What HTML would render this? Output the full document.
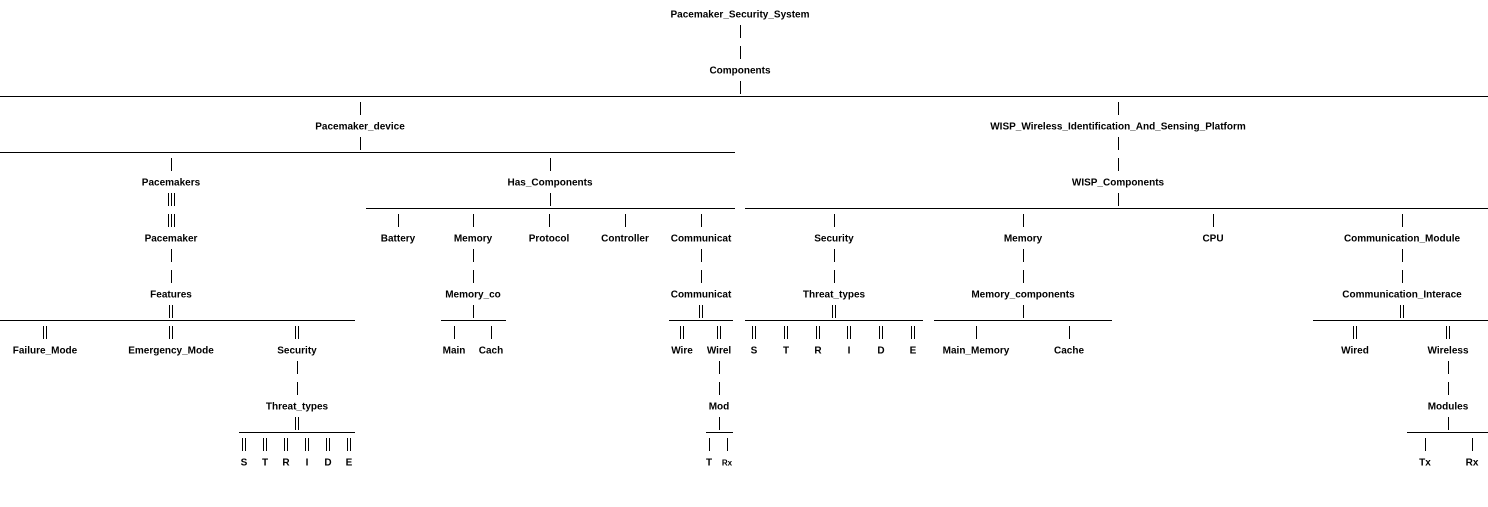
<!DOCTYPE html>
<html><head><meta charset="utf-8"><style>
html,body{margin:0;padding:0;background:#fff;}
svg{display:block}
text{font-family:"Liberation Sans",Arial,sans-serif;font-weight:bold;font-size:10px;fill:#000;text-anchor:middle;dominant-baseline:central}
line{stroke:#000;stroke-width:1}
</style></head><body>
<svg width="1488" height="507" viewBox="0 0 1488 507" xmlns="http://www.w3.org/2000/svg">
<g shape-rendering="crispEdges">
<line x1="740.5" y1="25" x2="740.5" y2="38"/><line x1="740.5" y1="46" x2="740.5" y2="59"/>
<line x1="740.5" y1="81" x2="740.5" y2="94"/>
<line x1="0" y1="96.5" x2="1488" y2="96.5"/>
<line x1="360.5" y1="102" x2="360.5" y2="115"/><line x1="1118.5" y1="102" x2="1118.5" y2="115"/>
<line x1="360.5" y1="137" x2="360.5" y2="150"/>
<line x1="0" y1="152.5" x2="735" y2="152.5"/>
<line x1="171.5" y1="158" x2="171.5" y2="171"/><line x1="550.5" y1="158" x2="550.5" y2="171"/>
<line x1="1118.5" y1="137" x2="1118.5" y2="150"/><line x1="1118.5" y1="158" x2="1118.5" y2="171"/>
<line x1="168.5" y1="193" x2="168.5" y2="206"/><line x1="171.5" y1="193" x2="171.5" y2="206"/><line x1="174.5" y1="193" x2="174.5" y2="206"/>
<line x1="168.5" y1="214" x2="168.5" y2="227"/><line x1="171.5" y1="214" x2="171.5" y2="227"/><line x1="174.5" y1="214" x2="174.5" y2="227"/>
<line x1="550.5" y1="193" x2="550.5" y2="206"/>
<line x1="366" y1="208.5" x2="735" y2="208.5"/>
<line x1="398.5" y1="214" x2="398.5" y2="227"/><line x1="473.5" y1="214" x2="473.5" y2="227"/><line x1="549.5" y1="214" x2="549.5" y2="227"/><line x1="625.5" y1="214" x2="625.5" y2="227"/><line x1="701.5" y1="214" x2="701.5" y2="227"/>
<line x1="1118.5" y1="193" x2="1118.5" y2="206"/>
<line x1="745" y1="208.5" x2="1488" y2="208.5"/>
<line x1="834.5" y1="214" x2="834.5" y2="227"/><line x1="1023.5" y1="214" x2="1023.5" y2="227"/><line x1="1213.5" y1="214" x2="1213.5" y2="227"/><line x1="1402.5" y1="214" x2="1402.5" y2="227"/>
<line x1="171.5" y1="249" x2="171.5" y2="262"/><line x1="171.5" y1="270" x2="171.5" y2="283"/>
<line x1="473.5" y1="249" x2="473.5" y2="262"/><line x1="473.5" y1="270" x2="473.5" y2="283"/>
<line x1="701.5" y1="249" x2="701.5" y2="262"/><line x1="701.5" y1="270" x2="701.5" y2="283"/>
<line x1="834.5" y1="249" x2="834.5" y2="262"/><line x1="834.5" y1="270" x2="834.5" y2="283"/>
<line x1="1023.5" y1="249" x2="1023.5" y2="262"/><line x1="1023.5" y1="270" x2="1023.5" y2="283"/>
<line x1="1402.5" y1="249" x2="1402.5" y2="262"/><line x1="1402.5" y1="270" x2="1402.5" y2="283"/>
<line x1="169.5" y1="305" x2="169.5" y2="318"/><line x1="172.5" y1="305" x2="172.5" y2="318"/>
<line x1="0" y1="320.5" x2="355" y2="320.5"/>
<line x1="43.5" y1="326" x2="43.5" y2="339"/><line x1="46.5" y1="326" x2="46.5" y2="339"/>
<line x1="169.5" y1="326" x2="169.5" y2="339"/><line x1="172.5" y1="326" x2="172.5" y2="339"/>
<line x1="295.5" y1="326" x2="295.5" y2="339"/><line x1="298.5" y1="326" x2="298.5" y2="339"/>
<line x1="473.5" y1="305" x2="473.5" y2="318"/>
<line x1="441" y1="320.5" x2="506" y2="320.5"/>
<line x1="454.5" y1="326" x2="454.5" y2="339"/><line x1="491.5" y1="326" x2="491.5" y2="339"/>
<line x1="699.5" y1="305" x2="699.5" y2="318"/><line x1="702.5" y1="305" x2="702.5" y2="318"/>
<line x1="669" y1="320.5" x2="733" y2="320.5"/>
<line x1="680.5" y1="326" x2="680.5" y2="339"/><line x1="683.5" y1="326" x2="683.5" y2="339"/>
<line x1="717.5" y1="326" x2="717.5" y2="339"/><line x1="720.5" y1="326" x2="720.5" y2="339"/>
<line x1="832.5" y1="305" x2="832.5" y2="318"/><line x1="835.5" y1="305" x2="835.5" y2="318"/>
<line x1="745" y1="320.5" x2="923" y2="320.5"/>
<line x1="752.5" y1="326" x2="752.5" y2="339"/><line x1="755.5" y1="326" x2="755.5" y2="339"/>
<line x1="784.5" y1="326" x2="784.5" y2="339"/><line x1="787.5" y1="326" x2="787.5" y2="339"/>
<line x1="816.5" y1="326" x2="816.5" y2="339"/><line x1="819.5" y1="326" x2="819.5" y2="339"/>
<line x1="847.5" y1="326" x2="847.5" y2="339"/><line x1="850.5" y1="326" x2="850.5" y2="339"/>
<line x1="879.5" y1="326" x2="879.5" y2="339"/><line x1="882.5" y1="326" x2="882.5" y2="339"/>
<line x1="911.5" y1="326" x2="911.5" y2="339"/><line x1="914.5" y1="326" x2="914.5" y2="339"/>
<line x1="1023.5" y1="305" x2="1023.5" y2="318"/>
<line x1="934" y1="320.5" x2="1112" y2="320.5"/>
<line x1="976.5" y1="326" x2="976.5" y2="339"/><line x1="1069.5" y1="326" x2="1069.5" y2="339"/>
<line x1="1400.5" y1="305" x2="1400.5" y2="318"/><line x1="1403.5" y1="305" x2="1403.5" y2="318"/>
<line x1="1313" y1="320.5" x2="1488" y2="320.5"/>
<line x1="1353.5" y1="326" x2="1353.5" y2="339"/><line x1="1356.5" y1="326" x2="1356.5" y2="339"/>
<line x1="1446.5" y1="326" x2="1446.5" y2="339"/><line x1="1449.5" y1="326" x2="1449.5" y2="339"/>
<line x1="297.5" y1="361" x2="297.5" y2="374"/><line x1="297.5" y1="382" x2="297.5" y2="395"/>
<line x1="719.5" y1="361" x2="719.5" y2="374"/><line x1="719.5" y1="382" x2="719.5" y2="395"/>
<line x1="1448.5" y1="361" x2="1448.5" y2="374"/><line x1="1448.5" y1="382" x2="1448.5" y2="395"/>
<line x1="295.5" y1="417" x2="295.5" y2="430"/><line x1="298.5" y1="417" x2="298.5" y2="430"/>
<line x1="239" y1="432.5" x2="355" y2="432.5"/>
<line x1="242.5" y1="438" x2="242.5" y2="451"/><line x1="245.5" y1="438" x2="245.5" y2="451"/>
<line x1="263.5" y1="438" x2="263.5" y2="451"/><line x1="266.5" y1="438" x2="266.5" y2="451"/>
<line x1="284.5" y1="438" x2="284.5" y2="451"/><line x1="287.5" y1="438" x2="287.5" y2="451"/>
<line x1="305.5" y1="438" x2="305.5" y2="451"/><line x1="308.5" y1="438" x2="308.5" y2="451"/>
<line x1="326.5" y1="438" x2="326.5" y2="451"/><line x1="329.5" y1="438" x2="329.5" y2="451"/>
<line x1="347.5" y1="438" x2="347.5" y2="451"/><line x1="350.5" y1="438" x2="350.5" y2="451"/>
<line x1="719.5" y1="417" x2="719.5" y2="430"/>
<line x1="706" y1="432.5" x2="733" y2="432.5"/>
<line x1="709.5" y1="438" x2="709.5" y2="451"/><line x1="727.5" y1="438" x2="727.5" y2="451"/>
<line x1="1448.5" y1="417" x2="1448.5" y2="430"/>
<line x1="1407" y1="432.5" x2="1488" y2="432.5"/>
<line x1="1425.5" y1="438" x2="1425.5" y2="451"/><line x1="1472.5" y1="438" x2="1472.5" y2="451"/>
</g>
<g transform="translate(0,1)">
<text x="740" y="14">Pacemaker_Security_System</text>
<text x="740" y="70">Components</text>
<text x="360" y="126">Pacemaker_device</text>
<text x="1118" y="126">WISP_Wireless_Identification_And_Sensing_Platform</text>
<text x="171" y="182">Pacemakers</text>
<text x="550" y="182">Has_Components</text>
<text x="1118" y="182">WISP_Components</text>
<text x="171" y="238">Pacemaker</text>
<text x="398" y="238">Battery</text>
<text x="473" y="238">Memory</text>
<text x="549" y="238">Protocol</text>
<text x="625" y="238">Controller</text>
<text x="701" y="238">Communicat</text>
<text x="834" y="238">Security</text>
<text x="1023" y="238">Memory</text>
<text x="1213" y="238">CPU</text>
<text x="1402" y="238">Communication_Module</text>
<text x="171" y="294">Features</text>
<text x="473" y="294">Memory_co</text>
<text x="701" y="294">Communicat</text>
<text x="834" y="294">Threat_types</text>
<text x="1023" y="294">Memory_components</text>
<text x="1402" y="294">Communication_Interace</text>
<text x="45" y="350">Failure_Mode</text>
<text x="171" y="350">Emergency_Mode</text>
<text x="297" y="350">Security</text>
<text x="454" y="350">Main</text>
<text x="491" y="350">Cach</text>
<text x="682" y="350">Wire</text>
<text x="719" y="350">Wirel</text>
<text x="754" y="350">S</text>
<text x="786" y="350">T</text>
<text x="818" y="350">R</text>
<text x="849" y="350">I</text>
<text x="881" y="350">D</text>
<text x="913" y="350">E</text>
<text x="976" y="350">Main_Memory</text>
<text x="1069" y="350">Cache</text>
<text x="1355" y="350">Wired</text>
<text x="1448" y="350">Wireless</text>
<text x="297" y="406">Threat_types</text>
<text x="719" y="406">Mod</text>
<text x="1448" y="406">Modules</text>
<text x="244" y="462">S</text>
<text x="265" y="462">T</text>
<text x="286" y="462">R</text>
<text x="307" y="462">I</text>
<text x="328" y="462">D</text>
<text x="349" y="462">E</text>
<text x="709" y="462">T</text>
<text x="727" y="462" style="font-size:8px">Rx</text>
<text x="1425" y="462">Tx</text>
<text x="1472" y="462">Rx</text>
</g>
</svg>
</body></html>
